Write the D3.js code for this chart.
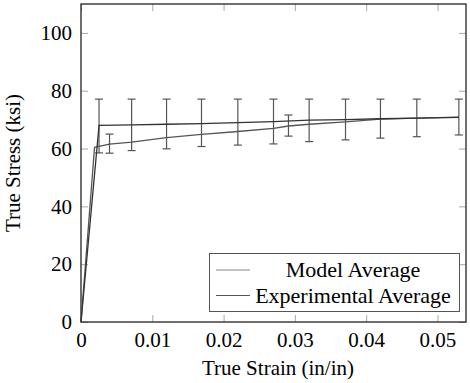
<!DOCTYPE html>
<html><head><meta charset="utf-8">
<script src="https://cdn.jsdelivr.net/npm/d3@7"></script>
<style>body{margin:0;background:#fff}svg{display:block}</style>
</head><body>
<svg id="c" width="470" height="383"></svg>
<script>
// Data
const expStrain = [0, 0.00253, 0.0071, 0.0120, 0.0169, 0.0220, 0.0270, 0.0320, 0.0371, 0.0420, 0.0471, 0.0530];
const expStress = [0, 68.0, 68.2, 68.4, 68.6, 69.0, 69.3, 69.8, 70.0, 70.3, 70.5, 70.8];
const expErrStrain = [0.00253, 0.0071, 0.0120, 0.0169, 0.0220, 0.0270, 0.0320, 0.0371, 0.0420, 0.0471, 0.0530];
const expErrHigh = [77.1, 77.1, 77.1, 77.1, 77.1, 77.1, 77.1, 77.1, 77.1, 77.1, 77.1];
const expErrLow = [58.5, 59.3, 59.9, 60.7, 61.2, 61.6, 62.4, 63.0, 63.6, 64.1, 64.7];
const modelStrain = [0, 0.0019, 0.0040, 0.0071, 0.0120, 0.0169, 0.0220, 0.0270, 0.0291, 0.0320, 0.0371, 0.0420, 0.0471, 0.0530];
const modelStress = [0, 60.4, 61.5, 62.2, 63.8, 64.9, 65.9, 67.0, 67.8, 68.4, 69.2, 70.2, 70.5, 70.9];
const modelErrStrain = [0.0040, 0.0291];
const modelErrHigh = [65.0, 71.6];
const modelErrLow = [58.4, 64.3];
const xTicks = [0, 0.01, 0.02, 0.03, 0.04, 0.05];
const yTicks = [0, 20, 40, 60, 80, 100];
const legendLabels = ["Model Average", "Experimental Average"];

const svg = d3.select("#c");
const L = 81, R = 466, T = 4, B = 322;
const x = d3.scaleLinear().domain([0, 0.054]).range([L, R]);
const y = d3.scaleLinear().domain([0, 110]).range([B, T]);
const font = "'Liberation Serif', 'Times New Roman', serif";

// axes (ticks inside, on all four sides)
const tickLen = 7;
function styleAxis(g){
  g.select(".domain").remove();
  g.selectAll(".tick line").attr("stroke", "#aaa").attr("stroke-width", 1);
  g.selectAll(".tick text").attr("fill", "#000").style("font-family", font).style("font-size", "21px");
}
svg.append("g").attr("transform", `translate(0,${B})`)
  .call(d3.axisBottom(x).tickValues(xTicks).tickFormat(d => d === 0 ? "0" : d3.format(".2f")(d)).tickSize(-tickLen).tickPadding(10))
  .call(styleAxis);
svg.append("g").attr("transform", `translate(0,${T})`)
  .call(d3.axisTop(x).tickValues(xTicks).tickFormat("").tickSize(-tickLen))
  .call(styleAxis);
svg.append("g").attr("transform", `translate(${L},0)`)
  .call(d3.axisLeft(y).tickValues(yTicks).tickSize(-tickLen).tickPadding(9))
  .call(styleAxis);
svg.append("g").attr("transform", `translate(${R},0)`)
  .call(d3.axisRight(y).tickValues(yTicks).tickFormat("").tickSize(-tickLen))
  .call(styleAxis);

// frame
svg.append("rect").attr("x", L).attr("y", T).attr("width", R - L).attr("height", B - T)
  .attr("fill", "none").attr("stroke", "#222").attr("stroke-width", 1.3);

// error bars
function errBars(xs, lo, hi){
  const g = svg.append("g").attr("stroke", "#555").attr("stroke-width", 1.2);
  xs.forEach((sx, i) => {
    const px = x(sx);
    g.append("line").attr("x1", px).attr("x2", px).attr("y1", y(lo[i])).attr("y2", y(hi[i]));
    g.append("line").attr("x1", px - 4).attr("x2", px + 4).attr("y1", y(lo[i])).attr("y2", y(lo[i]));
    g.append("line").attr("x1", px - 4).attr("x2", px + 4).attr("y1", y(hi[i])).attr("y2", y(hi[i]));
  });
}
errBars(expErrStrain, expErrLow, expErrHigh);
errBars(modelErrStrain, modelErrLow, modelErrHigh);

// lines
const line = d3.line().x(d => x(d[0])).y(d => y(d[1]));
svg.append("path").datum(modelStrain.map((s, i) => [s, modelStress[i]]))
  .attr("d", line).attr("fill", "none").attr("stroke", "#555").attr("stroke-width", 1.3);
svg.append("path").datum(expStrain.map((s, i) => [s, expStress[i]]))
  .attr("d", line).attr("fill", "none").attr("stroke", "#333").attr("stroke-width", 1.3);

// legend
const lg = svg.append("g");
lg.append("rect").attr("x", 209.5).attr("y", 253.5).attr("width", 250).attr("height", 58)
  .attr("fill", "#fff").attr("stroke", "#555").attr("stroke-width", 1);
const legendStroke = ["#888", "#555"];
legendLabels.forEach((lab, i) => {
  const ly = 270 + i * 25.5;
  lg.append("line").attr("x1", 216).attr("x2", 250).attr("y1", ly).attr("y2", ly)
    .attr("stroke", legendStroke[i]).attr("stroke-width", 1.2);
  lg.append("text").attr("x", 353).attr("y", ly + 7).attr("text-anchor", "middle")
    .style("font-family", font).style("font-size", "22px").attr("fill", "#000").text(lab);
});

// axis titles
svg.append("text").attr("x", 278).attr("y", 375).attr("text-anchor", "middle")
  .style("font-family", font).style("font-size", "21px").attr("fill", "#000").text("True Strain (in/in)");
svg.append("text").attr("transform", `translate(20,163) rotate(-90)`).attr("text-anchor", "middle")
  .style("font-family", font).style("font-size", "21px").attr("fill", "#000").text("True Stress (ksi)");
</script>
</body></html>
